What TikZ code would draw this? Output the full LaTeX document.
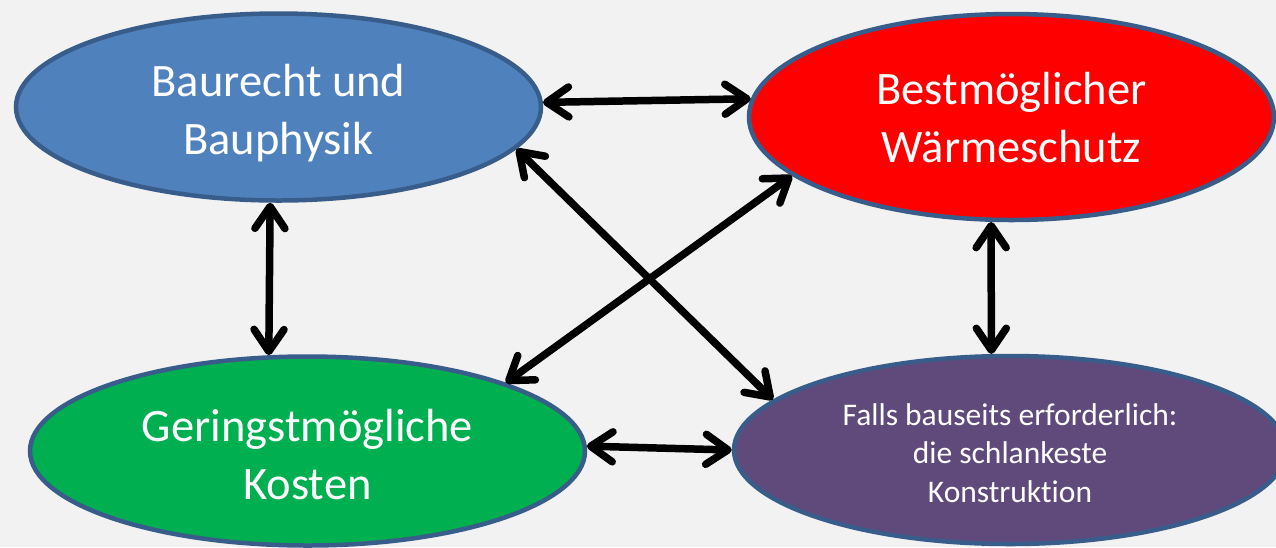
\documentclass[tikz,border=0pt]{standalone}
\usepackage{fontspec}
\setmainfont{Carlito}[Ligatures={NoCommon}]
\usetikzlibrary{shapes.geometric,arrows.meta}
\definecolor{bg}{HTML}{F2F2F2}
\definecolor{outline}{HTML}{385D8A}
\definecolor{cblue}{HTML}{4F81BD}
\definecolor{cred}{HTML}{FF0000}
\definecolor{cgreen}{HTML}{00B050}
\definecolor{cpurple}{HTML}{604A7B}
\begin{document}
\begin{tikzpicture}[x=1pt,y=-1pt,
  oval/.style={ellipse, draw=outline, line width=4.5pt, inner sep=0pt, text=white, align=center},
  bigtext/.style={font=\fontsize{46.5}{58}\selectfont},
  smalltext/.style={font=\fontsize{31.5}{38.5}\selectfont},
  conn/.style={line width=7.5pt, {Straight Barb[round,length=22pt,width=30pt]}-{Straight Barb[round,length=22pt,width=30pt]}}]
\fill[bg] (0,0) rectangle (1276,547);
\useasboundingbox (0,0) rectangle (1276,547);
\node[oval, bigtext, fill=cblue, minimum width=525pt, minimum height=187pt] (blue) at (278.5,107) {\rule{0pt}{54pt}Baurecht und\\\strut Bauphysik};
\node[oval, bigtext, fill=cred, minimum width=525pt, minimum height=206pt] (red) at (1011.5,117) {\rule{0pt}{51pt}Bestmöglicher\\\strut Wärmeschutz};
\node[oval, bigtext, fill=cgreen, minimum width=555pt, minimum height=189pt] (green) at (307.5,451) {\rule{0pt}{57pt}Geringstmögliche\\\strut Kosten};
\node[oval, smalltext, fill=cpurple, minimum width=552pt, minimum height=188pt] (purple) at (1010,450) {\rule{0pt}{39pt}Falls bauseits erforderlich:\\\strut die schlankeste\\\strut Konstruktion};
\draw[conn] (blue.1) -- (red.176);
\draw[conn] (blue.265) -- (green.112);
\draw[conn] (red.259) -- (purple.101);
\draw[conn] (green.1) -- (purple.180);
\draw[conn] (blue.350) -- (purple.168);
\draw[conn] (red.195) -- (green.19);
\end{tikzpicture}
\end{document}
